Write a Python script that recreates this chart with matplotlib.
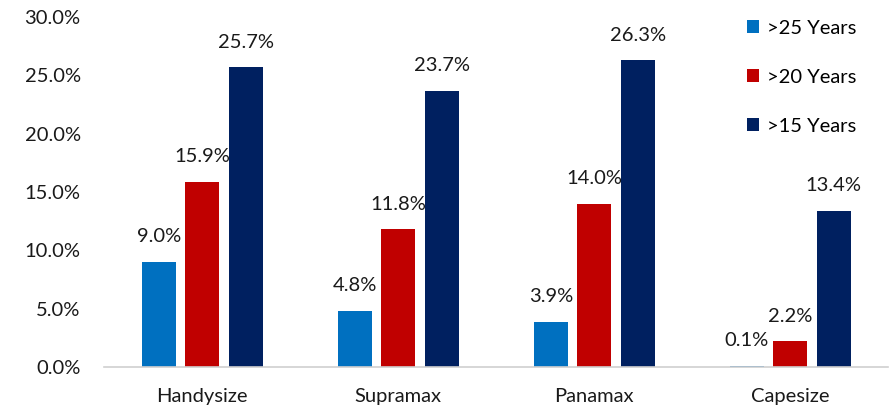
import matplotlib.pyplot as plt
import numpy as np

categories = ["Handysize", "Supramax", "Panamax", "Capesize"]
series_names = [">25 Years", ">20 Years", ">15 Years"]
over25 = [9.0, 4.8, 3.9, 0.1]
over20 = [15.9, 11.8, 14.0, 2.2]
over15 = [25.7, 23.7, 26.3, 13.4]
colors = ["#0070c0", "#c00000", "#002060"]

plt.rcParams['font.family'] = ['Lato', 'DejaVu Sans']

fig = plt.figure(figsize=(8.91, 4.08), dpi=100)
ax = fig.add_axes([0.117, 0.1005, 0.88, 0.8575])

x = np.arange(len(categories))
width = 0.173
offsets = [-0.222, 0, 0.222]

for vals, name, col, off in zip([over25, over20, over15], series_names, colors, offsets):
    bars = ax.bar(x + off, vals, width, color=col, label=name)
    for b, v in zip(bars, vals):
        ax.annotate(f"{v:.1f}%", (b.get_x() + b.get_width() / 2, v),
                    xytext=(0, 12), textcoords="offset points",
                    ha="center", va="bottom", fontsize=14.5, color="#1a1a1a")

ax.set_xlim(-0.5, 3.5)
ax.set_ylim(0, 30)
ax.set_yticks(np.arange(0, 30.1, 5))
ax.set_yticklabels([f"{t:.1f}%" for t in np.arange(0, 30.1, 5)])
ax.set_xticks(x)
ax.set_xticklabels(categories)
ax.tick_params(axis="both", length=0, labelsize=14.5, colors="#1a1a1a")
ax.tick_params(axis="x", pad=15)
ax.tick_params(axis="y", pad=17)

for s in ["top", "right", "left"]:
    ax.spines[s].set_visible(False)
ax.spines["bottom"].set_color("#d0d0d0")
ax.spines["bottom"].set_linewidth(1.2)

leg = ax.legend(loc="upper right", bbox_to_anchor=(0.983, 1.045), frameon=False,
                fontsize=14.5, handlelength=0.6, handleheight=0.6,
                handletextpad=0.4, labelspacing=1.6)

fig.savefig("out.png", dpi=100)
